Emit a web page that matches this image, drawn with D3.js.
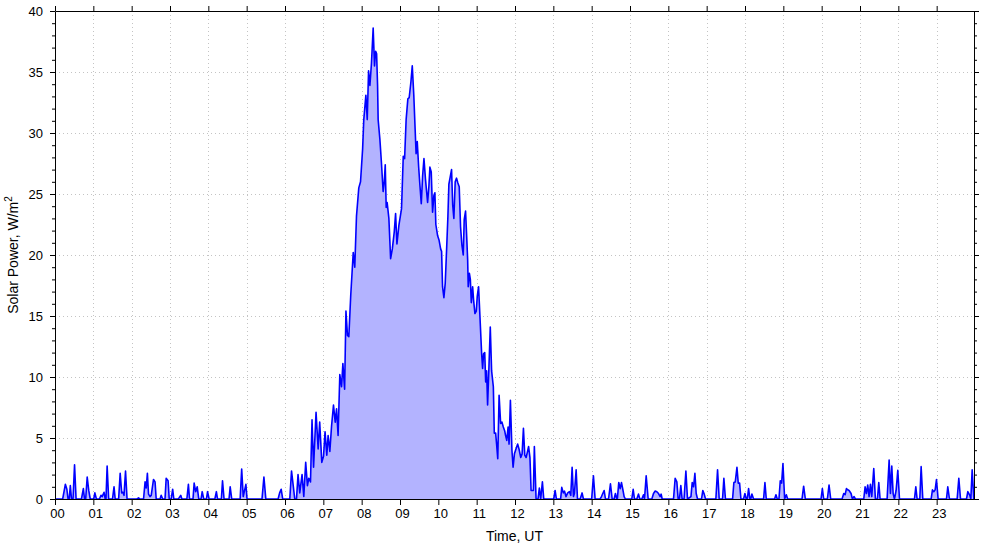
<!DOCTYPE html>
<html><head><meta charset="utf-8">
<script src="https://cdn.jsdelivr.net/npm/d3@7"></script>
<style>
body{margin:0;background:#fff;}
svg{display:block;font-family:"Liberation Sans",Arial,sans-serif;}
</style></head>
<body><svg id="c" width="985" height="547"></svg>
<script>
// Hour ticks (labels) along the time axis
const hourTicks = d3.range(0, 24);
const hourLabels = hourTicks.map(h => (h < 10 ? "0" : "") + h);
// Power axis ticks
const powerMajor = [0, 5, 10, 15, 20, 25, 30, 35, 40];
const powerMinor = d3.range(0, 41).filter(v => v % 5 !== 0);
// Readings: [time in hours UT, solar power W/m^2]
const readings = [
 [0,0],[0.20,0],[0.27,1.2],[0.31,0.8],[0.34,0],[0.37,0],[0.40,1.1],[0.43,0],[0.47,0],[0.51,2.8],[0.55,0],
 [0.69,0],[0.74,0.85],[0.77,0],[0.80,0],[0.84,1.8],[0.88,0.7],[0.92,0],[1.01,0],[1.04,0.5],[1.08,0],
 [1.16,0],[1.20,0.3],[1.23,0.2],[1.28,0.55],[1.31,0],[1.33,0],[1.36,2.7],[1.40,0],[1.50,0],[1.54,1.0],[1.57,0],
 [1.66,0],[1.70,2.1],[1.74,0.5],[1.77,0.55],[1.80,0.3],[1.84,2.3],[1.88,0],[2.14,0],[2.18,0.1],[2.21,0],
 [2.31,0],[2.35,1.4],[2.38,0.9],[2.41,2.1],[2.44,0.4],[2.48,0.2],[2.51,0.3],[2.57,1.6],[2.61,1.4],[2.64,0],
 [2.74,0],[2.77,0.3],[2.81,0],[2.87,0],[2.90,1.7],[2.95,1.5],[2.98,0],[3.03,0],[3.07,0.8],[3.10,0],
 [3.21,0],[3.24,0.1],[3.28,0.3],[3.31,0],[3.44,0],[3.48,1.2],[3.51,0],[3.60,0],[3.63,1.3],[3.67,0.6],[3.71,1.0],[3.75,0],
 [3.81,0],[3.84,0.6],[3.88,0],[3.95,0],[3.98,0.6],[4.02,0],[4.17,0],[4.21,0.6],[4.24,0],[4.34,0],[4.37,1.5],[4.41,0],
 [4.54,0],[4.57,1.0],[4.61,0],[4.83,0],[4.87,2.45],[4.91,0.2],[4.98,1.2],[5.01,0],[5.40,0],[5.45,1.8],[5.50,0],
 [5.82,0],[5.86,0.5],[5.90,0.8],[5.94,0],[6.125,0],
 [6.17,2.3],[6.255,0],[6.30,0],[6.34,2.0],[6.385,0.5],[6.445,2.0],[6.49,0.2],[6.54,3.0],[6.585,1.1],[6.62,1.7],
 [6.665,1.4],[6.705,6.5],[6.745,2.6],[6.81,7.1],[6.865,4.1],[6.905,6.3],[6.96,3.0],[7.005,3.5],[7.045,5.5],[7.09,3.6],
 [7.125,5.2],[7.17,3.9],[7.215,6.0],[7.265,7.7],[7.31,6.3],[7.345,7.4],[7.385,5.2],[7.43,10.2],[7.475,9.2],[7.51,11.1],
 [7.555,9.0],[7.59,15.4],[7.63,13.4],[7.665,13.3],[7.715,16.7],[7.78,20.2],[7.82,19.0],[7.865,23.2],[7.925,25.5],[7.97,26.0],
 [8.025,28.7],[8.055,31.1],[8.11,33.1],[8.145,31.1],[8.18,35.1],[8.215,33.9],[8.255,35.7],[8.30,38.6],[8.335,35.5],[8.365,36.7],
 [8.39,36.5],[8.415,33.9],[8.43,31.1],[8.475,29.5],[8.515,27.6],[8.56,25.2],[8.59,26.0],[8.615,27.4],[8.64,23.9],[8.665,24.3],
 [8.71,23.0],[8.755,19.7],[8.80,20.5],[8.85,21.9],[8.885,23.4],[8.92,20.9],[8.97,22.4],[9.04,23.8],[9.085,28.1],[9.12,27.9],
 [9.16,31.1],[9.205,32.8],[9.24,32.9],[9.285,34.2],[9.32,35.5],[9.36,33.1],[9.395,30.3],[9.42,28.3],[9.45,29.3],[9.485,27.3],
 [9.52,25.7],[9.555,24.2],[9.59,26.5],[9.625,27.9],[9.665,26.2],[9.72,24.3],[9.755,25.7],[9.78,27.2],[9.815,26.8],[9.85,23.5],
 [9.885,24.9],[9.91,25.1],[9.935,22.5],[9.98,21.6],[10.02,21.2],[10.06,20.5],[10.085,20.3],[10.11,17.4],[10.145,16.5],[10.18,17.7],
 [10.215,20.4],[10.25,23.2],[10.275,25.8],[10.31,26.4],[10.345,27.0],[10.375,24.1],[10.405,23.0],[10.44,26.0],[10.475,26.3],[10.51,25.9],
 [10.545,25.6],[10.58,22.3],[10.615,20.8],[10.65,20.0],[10.675,22.9],[10.71,23.6],[10.74,21.5],[10.765,19.6],[10.78,17.4],[10.81,18.5],
 [10.835,18.0],[10.86,16.1],[10.895,17.4],[10.92,16.3],[10.955,15.2],[10.99,15.4],[11.015,16.6],[11.05,17.4],[11.085,15.0],[11.13,11.9],
 [11.155,10.7],[11.18,11.9],[11.21,12.0],[11.235,9.6],[11.26,10.5],[11.285,7.7],[11.32,10.8],[11.355,14.1],[11.39,10.5],[11.435,9.2],
 [11.46,5.4],[11.495,5.4],[11.52,4.5],[11.55,3.3],[11.585,8.5],[11.625,6.2],[11.66,6.3],[11.695,5.9],[11.73,5.6],[11.755,5.2],
 [11.785,4.8],[11.82,5.9],[11.845,4.5],[11.88,8.1],[11.92,4.0],[11.95,2.6],[11.985,3.7],[12.025,4.1],[12.07,4.5],[12.105,4.1],
 [12.15,3.4],[12.185,3.7],[12.22,5.8],[12.255,3.6],[12.29,3.4],[12.32,3.8],[12.355,4.3],[12.39,3.4],[12.42,0.7],[12.48,0.7],
 [12.505,4.3],[12.55,0],[12.60,0],[12.635,0.9],[12.67,0],[12.715,1.4],[12.75,0],[13.01,0],[13.046,0.7],[13.08,0],
 [13.19,0],[13.22,0.95],[13.26,0.5],[13.29,0.65],[13.33,0.2],[13.375,0.5],[13.42,0.6],[13.455,0.3],[13.49,2.6],[13.525,0.2],
 [13.55,0.45],[13.595,2.4],[13.63,0],[13.70,0],[13.75,0.5],[13.785,0],[14.00,0],[14.046,1.9],[14.09,0],
 [14.22,0],[14.256,0.2],[14.29,0.45],[14.325,0.7],[14.36,0],[14.44,0],[14.49,1.25],[14.535,0],[14.585,0],[14.62,0.45],[14.655,0],
 [14.67,0],[14.707,1.35],[14.743,0.85],[14.778,1.35],[14.812,0.8],[14.847,0.2],[14.88,0],
 [15.047,0],[15.083,0.8],[15.117,0],[15.178,0],[15.222,0.4],[15.257,0],[15.309,0],[15.352,0.35],[15.378,0],[15.422,1.9],[15.474,0],
 [15.57,0],[15.613,0.45],[15.657,0.65],[15.70,0.6],[15.744,0.45],[15.787,0.2],[15.813,0.4],[15.839,0],
 [16.135,0],[16.178,1.7],[16.222,1.4],[16.256,0],[16.29,0],[16.326,1.1],[16.36,0],[16.41,0],[16.458,2.3],[16.50,0],
 [16.59,0.2],[16.623,1.35],[16.658,1.0],[16.693,2.1],[16.727,0.45],[16.762,0],[16.866,0],[16.90,0.7],[16.936,0.4],[16.97,0],
 [17.24,0],[17.284,2.4],[17.327,0],[17.414,0],[17.449,1.7],[17.49,0],
 [17.676,0],[17.71,1.35],[17.746,1.4],[17.79,2.6],[17.824,1.3],[17.859,1.3],[17.894,0],
 [17.963,0],[17.998,0.45],[18.033,0],[18.06,0],[18.094,0.85],[18.128,0],[18.15,0],[18.18,0.4],[18.224,0],
 [18.485,0],[18.52,1.35],[18.555,0],[18.773,0],[18.807,0.35],[18.842,0],[18.886,0],[18.92,1.5],[18.956,1.3],[18.99,2.9],
 [19.034,0],[19.078,0.35],[19.113,0],[19.487,0],[19.53,1.05],[19.574,0],
 [19.983,0],[20.018,0.85],[20.053,0],[20.149,0],[20.192,1.15],[20.236,0],
 [20.532,0],[20.576,0.45],[20.611,0.35],[20.646,0.85],[20.68,0.75],[20.715,0.7],[20.767,0.45],[20.802,0],[20.846,0.2],[20.88,0],
 [21.098,0],[21.133,1.0],[21.168,0.45],[21.202,1.15],[21.237,0.2],[21.272,1.2],[21.307,0.2],[21.359,2.5],[21.402,0],
 [21.455,0],[21.49,1.35],[21.524,0],[21.707,0],[21.76,3.2],[21.794,0.45],[21.829,2.7],[21.864,0.45],[21.899,0],
 [21.942,0.7],[21.986,2.35],[22.03,0],[22.421,0],[22.456,1.0],[22.49,0],[22.56,0],[22.595,2.65],[22.638,0],
 [22.856,0],[22.89,0.75],[22.925,0.6],[22.96,0.75],[22.995,1.6],[23.038,0],[23.256,0],[23.29,1.0],[23.334,0],
 [23.534,0],[23.578,1.7],[23.622,0],[23.778,0],[23.813,0.6],[23.865,0.3],[23.891,0],[23.926,2.4],[23.97,0],[24,0]
];

const svg = d3.select("#c");
const L = 55, R = 974, T = 11, B = 499;
const x = d3.scaleLinear().domain([0, 24]).range([L, 975]);
const y = d3.scaleLinear().domain([0, 40]).range([B, T]);

// clip
svg.append("defs").append("clipPath").attr("id","clip")
  .append("rect").attr("x", L).attr("y", T).attr("width", R - L + 1).attr("height", B - T + 1);

// grid
const grid = svg.append("g").attr("stroke", "#c4c4c4").attr("stroke-width", 1).attr("stroke-dasharray", "1,3");
grid.selectAll("line.v").data(hourTicks.filter(h => h > 0)).join("line")
  .attr("x1", d => Math.round(x(d)) + 0.5).attr("x2", d => Math.round(x(d)) + 0.5)
  .attr("y1", T).attr("y2", B);
grid.selectAll("line.h").data(powerMajor.filter(v => v > 0 && v < 40)).join("line")
  .attr("x1", L).attr("x2", R)
  .attr("y1", d => Math.round(y(d)) + 0.5).attr("y2", d => Math.round(y(d)) + 0.5);

// data
const plot = svg.append("g").attr("clip-path", "url(#clip)");
plot.append("path").datum(readings)
  .attr("fill", "#b3b3ff")
  .attr("d", d3.area().x(d => x(d[0])).y0(y(0)).y1(d => y(d[1])));
plot.append("path").datum(readings)
  .attr("fill", "none").attr("stroke", "#0000ff").attr("stroke-width", 1.6).attr("stroke-linejoin", "round")
  .attr("d", d3.line().x(d => x(d[0])).y(d => y(d[1])));

// axes
const fmt = d => hourLabels[d];
function style(g){
  g.selectAll("text").attr("font-size", 13).attr("fill", "#000").attr("font-family", '"Liberation Sans",Arial,sans-serif');
  g.selectAll("path,line").attr("stroke", "#000");
}
svg.append("g").attr("transform", `translate(0,${B})`)
  .call(d3.axisBottom(x).tickValues(hourTicks).tickFormat(fmt).tickSize(6).tickPadding(4).tickSizeOuter(0))
  .call(style).call(g => g.selectAll("text").attr("dx", 2))
  .call(g => g.select(".domain").attr("d", `M${L+0.5},0.5H${R+0.5}`));
svg.append("g").attr("transform", `translate(0,${T})`)
  .call(d3.axisTop(x).tickValues(hourTicks).tickFormat("").tickSize(5).tickSizeOuter(0))
  .call(style).call(g => g.select(".domain").attr("d", `M${L+0.5},0.5H${R+0.5}`));
svg.append("g").attr("transform", `translate(${L},0)`)
  .call(d3.axisLeft(y).tickValues(powerMajor).tickFormat(d3.format("d")).tickSize(5).tickPadding(7).tickSizeOuter(0))
  .call(style);
svg.append("g").attr("transform", `translate(${L},0)`)
  .call(d3.axisLeft(y).tickValues(powerMinor).tickFormat("").tickSize(3).tickSizeOuter(0))
  .call(style).call(g => g.select(".domain").remove());
svg.append("g").attr("transform", `translate(${R},0)`)
  .call(d3.axisRight(y).tickValues(powerMajor).tickFormat("").tickSize(5).tickSizeOuter(0))
  .call(style);
svg.append("g").attr("transform", `translate(${R},0)`)
  .call(d3.axisRight(y).tickValues(powerMinor).tickFormat("").tickSize(3).tickSizeOuter(0))
  .call(style).call(g => g.select(".domain").remove());

// titles
svg.append("text").attr("x", (L + R) / 2).attr("y", 541).attr("text-anchor", "middle")
  .attr("font-size", 14).text("Time, UT");
const yt = svg.append("text").attr("transform", `translate(18,${(T + B) / 2}) rotate(-90)`)
  .attr("text-anchor", "middle").attr("font-size", 14);
yt.append("tspan").text("Solar Power, W/m");
yt.append("tspan").attr("font-size", 10).attr("dy", -6).text("2");
</script>
</body></html>
